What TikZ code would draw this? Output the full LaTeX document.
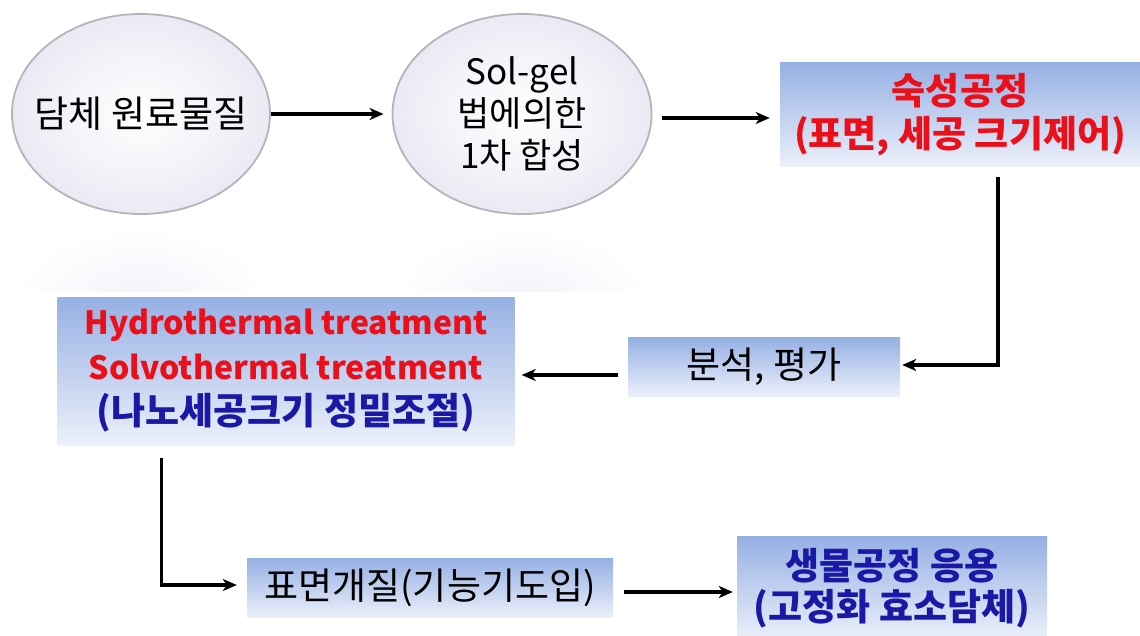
\documentclass[tikz,border=0pt]{standalone}
\usepackage{fontspec}
\setmainfont{Noto Sans CJK KR}
\usetikzlibrary{shapes.geometric,arrows.meta,calc}
\definecolor{boxtop}{RGB}{150,176,228}
\definecolor{boxbot}{RGB}{236,240,250}
\definecolor{kred}{RGB}{235,15,25}
\definecolor{kblue}{RGB}{25,25,165}
\definecolor{rim}{RGB}{180,180,188}
\definecolor{ballin}{RGB}{255,255,255}
\definecolor{ballout}{RGB}{234,234,244}
\definecolor{refl}{RGB}{242,244,250}
\begin{document}
\begin{tikzpicture}[x=1pt,y=-1pt,
  ball/.style={ellipse, inner sep=0pt, draw=rim, line width=1.8pt, inner color=ballin, outer color=ballout, align=center},
  gbox/.style={rectangle, inner sep=0pt, top color=boxtop, bottom color=boxbot, align=center},
  arr/.style={line width=3.4pt, -{Stealth[length=14pt,width=12pt,inset=4pt]}},
  reg/.style={font=\fontsize{37}{42}\selectfont},
  bld/.style={font=\fontsize{37}{43}\selectfont\bfseries}]
\useasboundingbox (0,0) rectangle (1140,636);
% reflections
\begin{scope}
  \clip (0,228) rectangle (1140,292);
  \shade[inner color=refl, outer color=white] (141,296) ellipse [x radius=125, y radius=68];
  \shade[inner color=refl, outer color=white] (522,296) ellipse [x radius=125, y radius=68];
\end{scope}
% nodes
\node[ball, minimum width=258pt, minimum height=200pt, reg] (e1) at (141,114) {\makebox[0pt]{담체 원료물질}};
\node[ball, minimum width=259pt, minimum height=200pt, font=\fontsize{35}{42}\selectfont] (e2) at (522,114) {Sol-gel\\법에의한\\1차 합성};
\node[gbox, minimum width=360pt, minimum height=104pt, text=kred, bld] (b1) at (960,115) {숙성공정\\(표면, 세공 크기제어)};
\node[gbox, minimum width=272pt, minimum height=59pt, reg] (b2) at (764,367) {분석, 평가};
\node[gbox, minimum width=457pt, minimum height=148pt, font=\fontsize{32}{45}\selectfont\bfseries] (b3) at (286,371) {\textcolor{kred}{Hydrothermal treatment}\\\textcolor{kred}{Solvothermal treatment}\\\textcolor{kblue}{\fontsize{37}{45}\selectfont(나노세공크기 정밀조절)}};
\node[gbox, minimum width=366pt, minimum height=59pt, reg] (b4) at (430,588) {표면개질(기능기도입)};
\node[gbox, minimum width=310pt, minimum height=104pt, text=kblue, font=\fontsize{37}{41}\selectfont\bfseries] (b5) at (892,588) {생물공정 응용\\(고정화 효소담체)};
% connectors
\draw[arr, shorten >=8pt] (e1) -- (e2);
\draw[arr, shorten <=10pt, shorten >=10pt] ($(e2.east)+(0,4)$) -- ($(b1.west |- e2.east)+(0,4)$);
\draw[arr, shorten <=10pt, shorten >=2pt] ($(b1.south)+(38,0)$) |- ($(b2.east)+(0,-2)$);
\draw[arr, shorten <=10pt, shorten >=7pt] ($(b2.west)+(0,8)$) -- ($(b3.east)+(0,4)$);
\draw[arr, shorten <=13pt, shorten >=10pt] ($(b3.south west)+(104,0)$) |- ($(b4.west)+(0,-3)$);
\draw[arr, shorten <=11pt, shorten >=4pt] ($(b4.east)+(0,4)$) -- ($(b5.west)+(0,4)$);
\end{tikzpicture}
\end{document}
